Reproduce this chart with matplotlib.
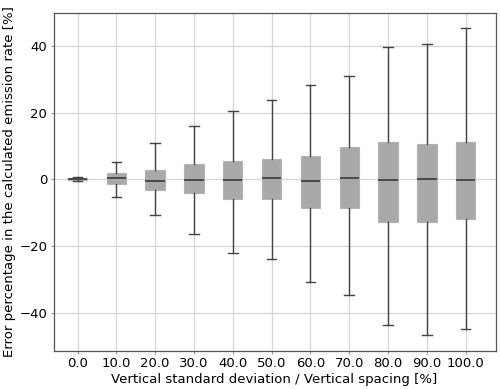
import matplotlib
matplotlib.use('Agg')
import matplotlib.pyplot as plt

labels = ['0.0', '10.0', '20.0', '30.0', '40.0', '50.0', '60.0', '70.0', '80.0', '90.0', '100.0']
whisker_low = [-0.6, -5.2, -10.6, -16.3, -22.2, -23.8, -30.9, -34.7, -43.7, -46.8, -45.0]
q1 = [-0.3, -1.4, -3.1, -4.1, -5.9, -6.0, -8.5, -8.7, -12.7, -12.7, -11.8]
medians = [0.0, 0.3, -0.4, -0.3, -0.1, 0.5, -0.5, 0.5, -0.3, 0.2, -0.3]
q3 = [0.3, 1.8, 2.7, 4.5, 5.4, 6.2, 7.1, 9.6, 11.1, 10.6, 11.2]
whisker_high = [0.6, 5.3, 11.0, 16.0, 20.5, 23.7, 28.2, 31.0, 39.6, 40.7, 45.4]

stats = []
for i in range(len(labels)):
    stats.append({'label': labels[i], 'whislo': whisker_low[i], 'q1': q1[i], 'med': medians[i],
                  'q3': q3[i], 'whishi': whisker_high[i], 'fliers': []})

fig = plt.figure(figsize=(5, 3.89), dpi=100)
ax = fig.add_axes([0.107, 0.098, 0.884, 0.869])

ax.bxp(stats, widths=0.5, patch_artist=True, showfliers=False,
       boxprops=dict(facecolor='#a9a9a9', edgecolor='#b3b3b3', linewidth=0.8),
       medianprops=dict(color='#3a3a3a', linewidth=1.2),
       whiskerprops=dict(color='#444444', linewidth=1.0),
       capprops=dict(color='#444444', linewidth=1.0))

ax.set_xlim(0.38, 11.77)
ax.set_ylim(-51.5, 50)
ax.set_yticks([-40, -20, 0, 20, 40])
ax.grid(True, color='#d6d6d6', linewidth=0.9)
ax.set_axisbelow(True)
ax.tick_params(length=2.5, width=0.8, color='#999999', labelsize=9.5, pad=2)
for s in ax.spines.values():
    s.set_color('#555555')
    s.set_linewidth(0.9)

ax.set_xlabel('Vertical standard deviation / Vertical spacing [%]', fontsize=9.5, labelpad=2)
ax.set_ylabel('Error percentage in the calculated emission rate [%]', fontsize=9.5, labelpad=2)

fig.savefig('out.png', dpi=100)
